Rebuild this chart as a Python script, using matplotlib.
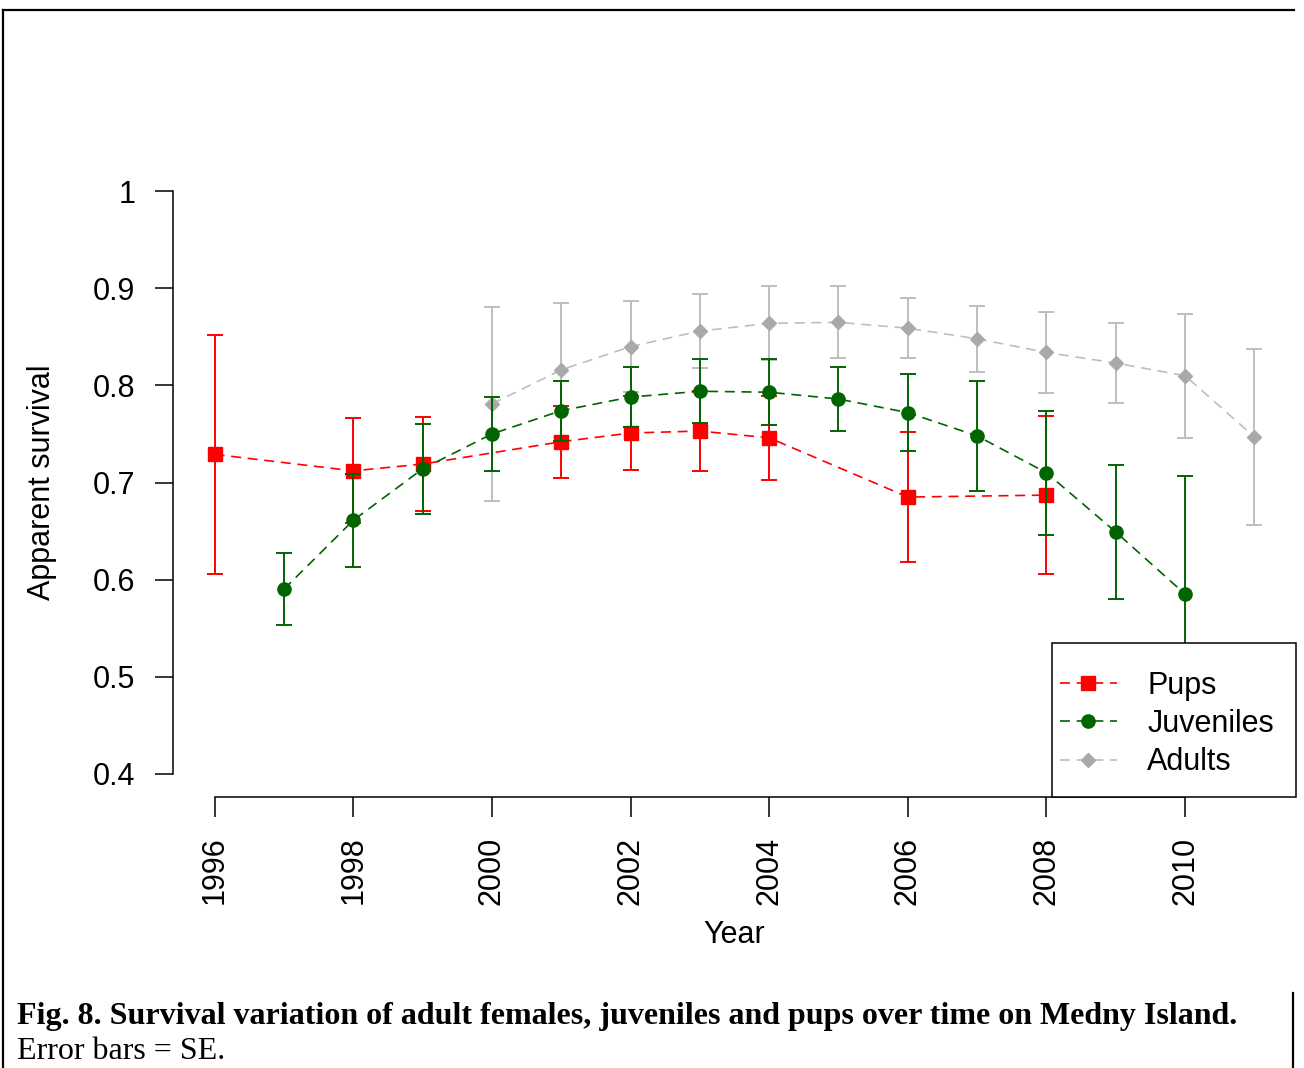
import matplotlib
matplotlib.use("Agg")
import matplotlib.pyplot as plt
from matplotlib.lines import Line2D
from matplotlib.patches import Rectangle

# survival estimates (value, SE)
pup_years = [1996, 1998, 1999, 2001, 2002, 2003, 2004, 2006, 2008]
pup_surv = [0.729, 0.712, 0.719, 0.742, 0.751, 0.753, 0.746, 0.685, 0.687]
pup_se = [0.123, 0.054, 0.048, 0.037, 0.038, 0.041, 0.043, 0.067, 0.081]

juv_years = [1997, 1998, 1999, 2000, 2001, 2002, 2003, 2004, 2005, 2006,
             2007, 2008, 2009, 2010]
juv_surv = [0.590, 0.661, 0.714, 0.750, 0.774, 0.788, 0.794, 0.793, 0.786,
            0.772, 0.748, 0.710, 0.649, 0.585]
juv_se = [0.037, 0.048, 0.046, 0.038, 0.031, 0.031, 0.033, 0.034, 0.033,
          0.040, 0.057, 0.064, 0.069, 0.122]

adult_years = [2000, 2001, 2002, 2003, 2004, 2005, 2006, 2007, 2008, 2009,
               2010, 2011]
adult_surv = [0.781, 0.816, 0.840, 0.856, 0.864, 0.865, 0.859, 0.848, 0.834,
              0.823, 0.810, 0.747]
adult_se = [0.100, 0.069, 0.047, 0.038, 0.038, 0.037, 0.031, 0.034, 0.042,
            0.041, 0.064, 0.091]

x_ticks = [1996, 1998, 2000, 2002, 2004, 2006, 2008, 2010]
y_ticks = [0.4, 0.5, 0.6, 0.7, 0.8, 0.9, 1.0]
y_ticklabels = ["0.4", "0.5", "0.6", "0.7", "0.8", "0.9", "1"]

plt.rcParams['font.family'] = ['Liberation Sans', 'DejaVu Sans']

W, H = 1304, 1068
fig = plt.figure(figsize=(W / 100, H / 100), dpi=100, facecolor='w')
# R-like plot region (pixels: left 173, right 1296, top 168, bottom 797)
ax = fig.add_axes([173 / W, (H - 797) / H, (1296 - 173) / W, (797 - 168) / H])

dash = (6, 4)
series = [
    (adult_years, adult_surv, adult_se, 'D', 7, '#A9A9A9', '#BEBEBE', '#BEBEBE', 'Adults', 2),
    (pup_years, pup_surv, pup_se, 's', 10, 'red', 'red', 'red', 'Pups', 3),
    (juv_years, juv_surv, juv_se, 'o', 9.5, '#006400', '#006400', '#006400', 'Juveniles', 4),
]
handles = {}
for xs, ys, se, mk, ms, mcol, lcol, ecol, lab, z in series:
    ax.errorbar(xs, ys, yerr=se, fmt='none', ecolor=ecol, elinewidth=1.4,
                capsize=5.5, capthick=1.4, zorder=z)
    h, = ax.plot(xs, ys, color=lcol, linestyle='--', dashes=dash, linewidth=1.2,
                 marker=mk, markersize=ms, markerfacecolor=mcol,
                 markeredgecolor=mcol, label=lab, zorder=z + 0.5)
    handles[lab] = h

ax.set_xlim(1995.4, 2011.6)
ax.set_ylim(0.376, 1.024)

for s in ['top', 'right']:
    ax.spines[s].set_visible(False)
ax.spines['left'].set_bounds(0.4, 1.0)
ax.spines['bottom'].set_bounds(1996, 2010)
for s in ['left', 'bottom']:
    ax.spines[s].set_linewidth(1.1)

ax.set_xticks(x_ticks)
ax.set_xticklabels([str(t) for t in x_ticks], rotation=90)
ax.set_yticks(y_ticks)
ax.set_yticklabels(y_ticklabels)
ax.tick_params(axis='y', length=13, width=1.1, pad=14, labelsize=22)
ax.tick_params(axis='x', length=14.5, width=1.1, pad=14, labelsize=22)

ax.set_ylabel('Apparent survival', fontsize=22)
ax.yaxis.set_label_coords(-0.103, 0.5)
ax.set_xlabel('Year', fontsize=22)
ax.xaxis.set_label_coords(0.5, -0.196)

# legend box drawn like R's: opaque frame, entries placed inside
box = Rectangle((0.7827, 0.0), 0.2173, 0.2448, transform=ax.transAxes,
                facecolor='white', edgecolor='black', linewidth=1.1,
                clip_on=False, zorder=9)
ax.add_patch(box)
leg = ax.legend([handles['Pups'], handles['Juveniles'], handles['Adults']],
                ['Pups', 'Juveniles', 'Adults'],
                loc='center left', bbox_to_anchor=(0.7898, 0.116),
                borderaxespad=0, borderpad=0, frameon=False,
                fontsize=22, handlelength=1.86, handletextpad=1.0,
                labelspacing=0.27)
leg.set_zorder(10)

# page frame around the figure
lw = 1.6
fig.add_artist(Line2D([3 / W, 1294 / W], [1 - 10 / H, 1 - 10 / H], color='black', lw=lw))
fig.add_artist(Line2D([3 / W, 3 / W], [0, 1 - 10 / H], color='black', lw=lw))
fig.add_artist(Line2D([1293 / W, 1293 / W], [0, 1 - 993 / H], color='black', lw=lw))

# caption
fig.text(17 / W, 1 - 1024 / H,
         'Fig. 8. Survival variation of adult females, juveniles and pups over time on Medny Island.',
         family='Liberation Serif', fontweight='bold', fontsize=23, va='baseline', ha='left')
fig.text(17 / W, 1 - 1059 / H, 'Error bars = SE.',
         family='Liberation Serif', fontsize=23, va='baseline', ha='left')

fig.savefig('out.png', dpi=100)
